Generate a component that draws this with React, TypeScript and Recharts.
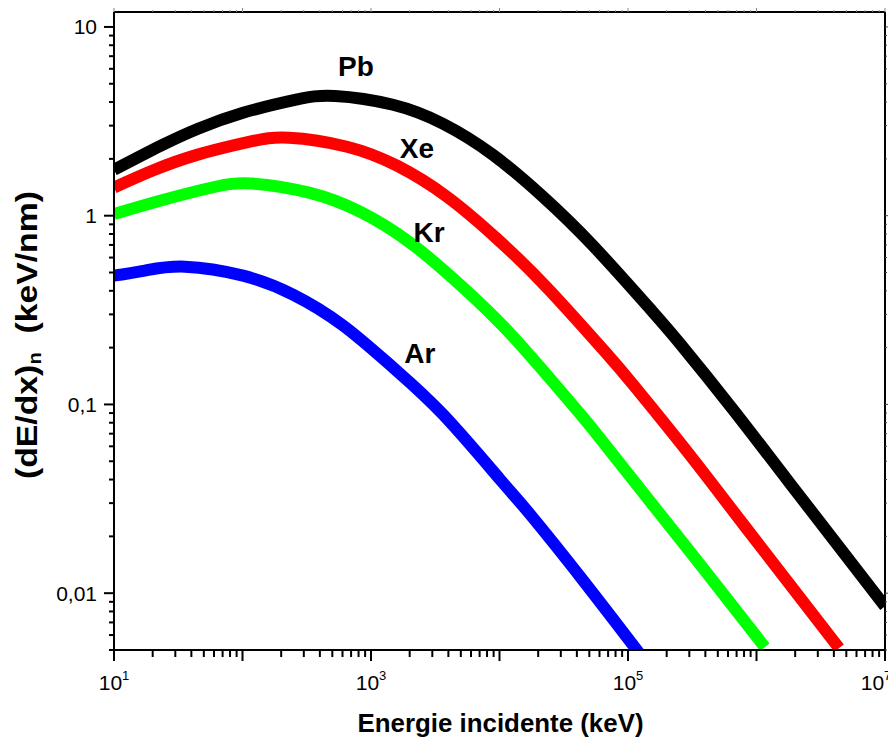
import React from "react";
import { LineChart, Line, XAxis, YAxis, ReferenceDot } from "recharts";

// energies in keV, stopping power in keV/nm
const pbEnergy = [10, 23.2, 45.1, 101, 256, 525, 1483, 3633, 8900, 21800, 53400, 148000, 254000, 656000, 1820000, 10000000];
const pbValues = [1.75, 2.35, 2.89, 3.51, 4.11, 4.31, 3.87, 3.07, 2.1, 1.26, 0.694, 0.322, 0.21, 0.0941, 0.0382, 0.00853];

const xeEnergy = [10, 19.8, 44.2, 112, 230, 651, 1594, 3903, 9560, 23400, 65000, 111000, 288000, 800000, 4390000];
const xeValues = [1.41, 1.73, 2.1, 2.46, 2.59, 2.32, 1.84, 1.26, 0.755, 0.416, 0.193, 0.126, 0.0564, 0.0229, 0.00512];

const krEnergy = [10, 22.8, 57.9, 119, 335, 821, 2012, 4927, 12070, 33500, 57400, 148000, 412000, 1160000];
const krValues = [1.02, 1.2, 1.41, 1.48, 1.32, 1.05, 0.72, 0.431, 0.238, 0.1076, 0.0694, 0.0307, 0.01276, 0.00518];

const arEnergy = [10, 17.4, 35.7, 101, 247, 606, 1483, 3633, 10090, 17280, 44600, 124000];
const arValues = [0.481, 0.512, 0.537, 0.481, 0.382, 0.262, 0.157, 0.0885, 0.0401, 0.0262, 0.01172, 0.00475];

const seriesNames = ["Pb", "Xe", "Kr", "Ar"];
const seriesColors = ["#000000", "#ff0000", "#00ff00", "#0000ff"];
// where each element name sits (energy, value)
const labelEnergy = [764, 2280, 2830, 2400];
const labelValue = [6.22, 2.29, 0.823, 0.188];

const xMajors = [10, 100, 1000, 10000, 100000, 1000000, 10000000];
const xLabelled = [1, 3, 5, 7]; // exponents that get a label
const yMajors = [0.01, 0.1, 1, 10];
const yTickText: Record<string, string> = { "0.01": "0,01", "0.1": "0,1", "1": "1", "10": "10" };
const minorSteps = [2, 3, 4, 5, 6, 7, 8, 9];

const xTicks = [
  ...xMajors,
  ...xMajors.slice(0, -1).flatMap((m) => minorSteps.map((s) => Number((m * s).toPrecision(3)))),
].sort((a, b) => a - b);

const yTicks = [
  0.005, 0.006, 0.007, 0.008, 0.009,
  ...yMajors,
  ...yMajors.slice(0, -1).flatMap((m) => minorSteps.map((s) => Number((m * s).toPrecision(3)))),
].sort((a, b) => a - b);

const toPoints = (e: number[], v: number[]) => e.map((energy, i) => ({ energy, value: v[i] }));
const allSeries = [
  toPoints(pbEnergy, pbValues),
  toPoints(xeEnergy, xeValues),
  toPoints(krEnergy, krValues),
  toPoints(arEnergy, arValues),
];

const FONT = '"Liberation Sans", Arial, sans-serif';

const isMajor = (v: number) => {
  const l = Math.log10(v);
  return Math.abs(l - Math.round(l)) < 1e-6;
};

const BottomTick = (props: any) => {
  const { x, y, payload } = props;
  const major = isMajor(payload.value);
  const p = Math.round(Math.log10(payload.value));
  // last label is pulled in so it stays inside the frame
  const shift = p === 7 ? -9 : 0;
  return (
    <g>
      <line x1={x} x2={x} y1={y} y2={y + (major ? 11 : 7)} stroke="#000" strokeWidth={2} />
      {major && xLabelled.includes(p) && (
        <text x={x + shift} y={y + 40} textAnchor="middle" fontSize={21} fontFamily={FONT} fill="#000">
          10
          <tspan dy={-10} fontSize={13}>
            {p}
          </tspan>
        </text>
      )}
    </g>
  );
};

const TopTick = (props: any) => {
  const { x, y, payload } = props;
  const major = isMajor(payload.value);
  return <line x1={x} x2={x} y1={y} y2={y - (major ? 4 : 2)} stroke="#888" strokeWidth={1} />;
};

const LeftTick = (props: any) => {
  const { x, y, payload } = props;
  const major = isMajor(payload.value);
  const txt = yTickText[String(payload.value)];
  return (
    <g>
      <line x1={x} x2={x - (major ? 10 : 5)} y1={y} y2={y} stroke="#000" strokeWidth={2} />
      {major && txt && (
        <text x={x - 17} y={y} dy="0.35em" textAnchor="end" fontSize={21} fontFamily={FONT} fill="#000">
          {txt}
        </text>
      )}
    </g>
  );
};

const RightTick = (props: any) => {
  const { x, y, payload } = props;
  const major = isMajor(payload.value);
  return <line x1={x} x2={x + (major ? 4 : 2)} y1={y} y2={y} stroke="#444" strokeWidth={1} />;
};

const XTitle = (props: any) => {
  const vb = props.viewBox;
  return (
    <text
      x={vb.x + vb.width / 2 + 1}
      y={vb.y + 82}
      textAnchor="middle"
      fontSize={25}
      fontWeight="bold"
      fontFamily={FONT}
      fill="#000"
      textLength={286}
      lengthAdjust="spacingAndGlyphs"
    >
      Energie incidente (keV)
    </text>
  );
};

const YTitle = (props: any) => {
  const vb = props.viewBox;
  const cx = 18;
  const cy = vb.y + vb.height / 2 + 4;
  return (
    <text
      x={cx}
      y={cy}
      transform={`rotate(-90, ${cx}, ${cy})`}
      textAnchor="middle"
      dominantBaseline="central"
      fontSize={30}
      fontWeight="bold"
      fontFamily={FONT}
      fill="#000"
      textLength={288}
      lengthAdjust="spacingAndGlyphs"
    >
      (dE/dx)
      <tspan fontSize={18} dy={9}>
        n
      </tspan>
      <tspan dy={-9}>{"\u00a0\u00a0(keV/nm)"}</tspan>
    </text>
  );
};

export default function App() {
  return (
    <LineChart width={888} height={734} margin={{ top: 0, right: 0, bottom: 0, left: 0 }}>
      <XAxis
        dataKey="energy"
        type="number"
        scale="log"
        domain={[10, 10000000]}
        allowDataOverflow
        ticks={xTicks}
        interval={0}
        tickSize={0}
        tickMargin={0}
        tick={<BottomTick />}
        tickLine={false}
        axisLine={{ stroke: "#000", strokeWidth: 2 }}
        height={92}
        label={<XTitle />}
      />
      <XAxis
        xAxisId="top"
        orientation="top"
        dataKey="energy"
        type="number"
        scale="log"
        domain={[10, 10000000]}
        allowDataOverflow
        ticks={xTicks}
        interval={0}
        tickSize={0}
        tickMargin={0}
        tick={<TopTick />}
        tickLine={false}
        axisLine={{ stroke: "#000", strokeWidth: 2 }}
        height={4}
      />
      <YAxis
        dataKey="value"
        type="number"
        scale="log"
        domain={[0.005, 12]}
        allowDataOverflow
        ticks={yTicks}
        interval={0}
        tickSize={0}
        tickMargin={0}
        tick={<LeftTick />}
        tickLine={false}
        axisLine={{ stroke: "#000", strokeWidth: 2 }}
        width={106}
        label={<YTitle />}
      />
      <YAxis
        yAxisId="right"
        orientation="right"
        dataKey="value"
        type="number"
        scale="log"
        domain={[0.005, 12]}
        allowDataOverflow
        ticks={yTicks}
        interval={0}
        tickSize={0}
        tickMargin={0}
        tick={<RightTick />}
        tickLine={false}
        axisLine={{ stroke: "#000", strokeWidth: 2 }}
        width={11}
      />
      {allSeries.map((pts, i) => (
        <Line
          key={seriesNames[i]}
          data={pts}
          dataKey="value"
          name={seriesNames[i]}
          type="natural"
          stroke={seriesColors[i]}
          strokeWidth={12}
          strokeLinejoin="round"
          dot={false}
          activeDot={false}
          isAnimationActive={false}
        />
      ))}
      {seriesNames.map((n, i) => (
        <ReferenceDot
          key={"lbl" + n}
          x={labelEnergy[i]}
          y={labelValue[i]}
          r={1}
          shape={(p: any) => (
            <text
              x={p.cx}
              y={p.cy}
              dy="0.36em"
              textAnchor="middle"
              fontSize={28}
              fontWeight="bold"
              fontFamily={FONT}
              fill="#000"
            >
              {n}
            </text>
          )}
        />
      ))}
    </LineChart>
  );
}
